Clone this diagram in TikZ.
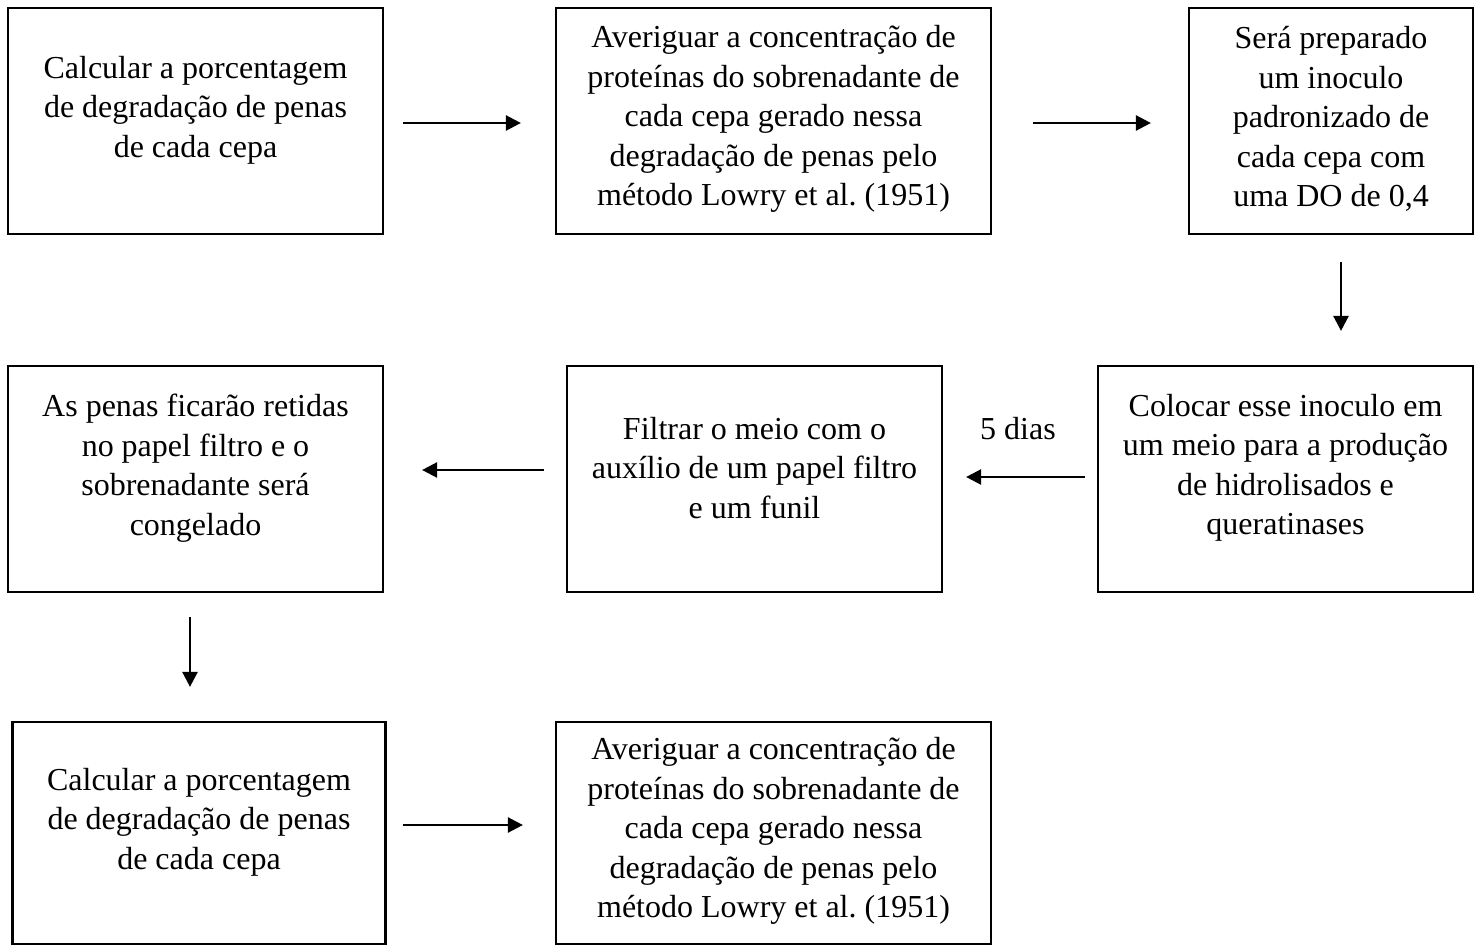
\documentclass[tikz,border=0pt]{standalone}
\usepackage{fontspec}
\setmainfont{Liberation Serif}
\usetikzlibrary{arrows.meta}
\frenchspacing
\begin{document}
\begin{tikzpicture}[x=1pt,y=-1pt,
  box/.style={draw, line width=2.2pt, rectangle, inner sep=0pt},
  txt/.style={align=center, inner sep=0pt, font=\fontsize{32}{39.5}\selectfont},
  arr/.style={line width=2.5pt, -{Triangle[length=15pt,width=15pt]}}]
\useasboundingbox (0,0) rectangle (1480,947);
% boxes
\node[box, minimum width=375pt, minimum height=226pt] (b1) at (195.5,121) {};
\node[box, minimum width=435pt, minimum height=226pt] (b2) at (773.5,121) {};
\node[box, minimum width=284pt, minimum height=226pt] (b3) at (1331,121) {};
\node[box, minimum width=375pt, minimum height=226pt] (b4) at (1285.5,479) {};
\node[box, minimum width=375pt, minimum height=226pt] (b5) at (754.5,479) {};
\node[box, minimum width=375pt, minimum height=226pt] (b6) at (195.5,479) {};
\node[box, minimum width=373pt, minimum height=222pt] (b7) at (199,833) {};
\node[box, minimum width=435pt, minimum height=222pt] (b8) at (773.5,833) {};
% texts
\node[txt] (t1) at ([yshift=11pt]b1.center) {Calcular a porcentagem\\de degradação de penas\\de cada cepa};
\node[txt] (t2) at ([yshift=2pt]b2.center) {Averiguar a concentração de\\proteínas do sobrenadante de\\cada cepa gerado nessa\\degradação de penas pelo\\método Lowry et al. (1951)};
\node[txt] (t3) at ([yshift=2pt]b3.center) {Será preparado\\um inoculo\\padronizado de\\cada cepa com\\uma DO de 0,4};
\node[txt] (t4) at ([yshift=11pt]b4.center) {Colocar esse inoculo em\\um meio para a produção\\de hidrolisados e\\queratinases};
\node[txt] (t5) at ([yshift=11pt]b5.center) {Filtrar o meio com o\\auxílio de um papel filtro\\e um funil};
\node[txt] (t6) at ([yshift=11pt]b6.center) {As penas ficarão retidas\\no papel filtro e o\\sobrenadante será\\congelado};
\node[txt] (t7) at ([yshift=11pt]b7.center) {Calcular a porcentagem\\de degradação de penas\\de cada cepa};
\node[txt] (t8) at ([yshift=2pt]b8.center) {Averiguar a concentração de\\proteínas do sobrenadante de\\cada cepa gerado nessa\\degradação de penas pelo\\método Lowry et al. (1951)};
\node[txt, anchor=base] (lbl) at (1018,439) {5 dias};
% arrows
\draw[arr, shorten <=19pt, shorten >=34pt] ([yshift=-2pt]b1.east) -- ([yshift=-2pt]b2.west);
\draw[arr, shorten <=41pt, shorten >=37pt] ([yshift=-2pt]b2.east) -- ([yshift=-2pt]b3.west);
\draw[arr, shorten <=27pt, shorten >=34pt] ([xshift=10pt]b3.south) -- ([xshift=10pt]b3.south |- b4.north);
\draw[arr, shorten <=12pt, shorten >=23pt] ([yshift=2pt]b4.west) -- ([yshift=2pt]b5.east);
\draw[arr, shorten <=22pt, shorten >=38pt] ([yshift=9pt]b5.west) -- ([yshift=9pt]b6.east);
\draw[arr, shorten <=24pt, shorten >=34pt] ([xshift=-5.5pt]b6.south) -- ([xshift=-5.5pt]b6.south |- b7.north);
\draw[arr, shorten <=16pt, shorten >=32pt] ([yshift=8pt]b7.east) -- ([yshift=8pt]b8.west);
\end{tikzpicture}
\end{document}
